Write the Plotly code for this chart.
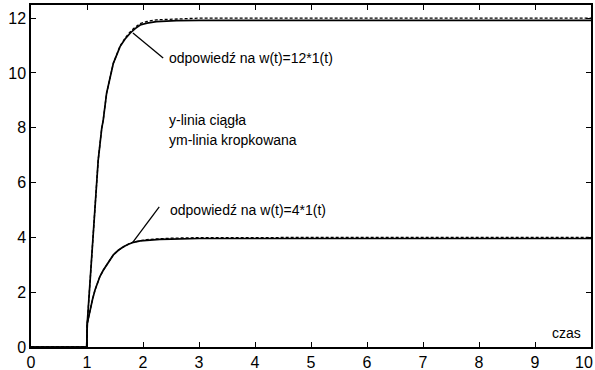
import plotly.graph_objects as go

# time samples (s)
t = [0, 0.995, 1.005, 1.054, 1.10, 1.143, 1.20, 1.263, 1.29, 1.35, 1.41, 1.47, 1.59, 1.68, 1.77, 1.86, 1.95, 2.07, 2.24, 2.6, 3, 4, 5, 6, 7, 8, 9, 10]
# response to w(t)=12*1(t)
y12 = [0, 0, 0.88, 2.45, 4.03, 5.36, 6.82, 7.98, 8.28, 9.26, 9.85, 10.35, 10.96, 11.24, 11.45, 11.62, 11.75, 11.82, 11.87, 11.91, 11.92, 11.92, 11.92, 11.92, 11.92, 11.92, 11.92, 11.92]
ym12 = [0, 0, 0.88, 2.45, 4.03, 5.36, 6.82, 7.98, 8.28, 9.26, 9.85, 10.35, 10.98, 11.27, 11.5, 11.67, 11.8, 11.88, 11.94, 11.98, 12.0, 12.0, 12.0, 12.0, 12.0, 12.0, 12.0, 12.0]
# response to w(t)=4*1(t)
t4 = [0, 0.995, 1.005, 1.054, 1.10, 1.143, 1.23, 1.29, 1.35, 1.41, 1.47, 1.56, 1.65, 1.74, 1.83, 1.95, 2.07, 2.3, 2.5, 3, 4, 5, 6, 7, 8, 9, 10]
y4 = [0, 0, 0.86, 1.35, 1.75, 2.08, 2.57, 2.80, 2.99, 3.19, 3.36, 3.53, 3.66, 3.75, 3.82, 3.87, 3.90, 3.93, 3.94, 3.96, 3.96, 3.96, 3.96, 3.96, 3.96, 3.96, 3.96]
ym4 = [0, 0, 0.86, 1.35, 1.75, 2.08, 2.57, 2.80, 2.99, 3.19, 3.36, 3.53, 3.66, 3.76, 3.83, 3.88, 3.92, 3.95, 3.97, 3.99, 4.0, 4.0, 4.0, 4.0, 4.0, 4.0, 4.0]

xticks = list(range(0, 11))
xtick_labels = ["0", "1", "2", "3", "4", "5", "6", "7", "8", "9", ""]
last_xlabel = "10"
yticks = [0, 2, 4, 6, 8, 10, 12]

fig = go.Figure()
for xs, ys in [(t, y12), (t4, y4)]:
    fig.add_trace(go.Scatter(x=xs, y=ys, mode="lines", line=dict(color="black", width=1.7), showlegend=False))
for xs, ys in [(t, ym12), (t4, ym4)]:
    fig.add_trace(go.Scatter(x=xs, y=ys, mode="lines", line=dict(color="black", width=1.3, dash="3px,2px"), showlegend=False))

font = dict(family="Liberation Sans, Arial, sans-serif", size=14, color="black")
tickfont = dict(family="Liberation Sans, Arial, sans-serif", size=16, color="black")

# pointer lines
fig.add_shape(type="line", x0=1.82, y0=11.46, x1=2.36, y1=10.55, line=dict(color="black", width=1.3))
fig.add_shape(type="line", x0=1.82, y0=3.83, x1=2.29, y1=5.11, line=dict(color="black", width=1.3))

ann = [
    (2.43, 10.55, "odpowiedź na w(t)=12*1(t)", "left"),
    (2.45, 5.0, "odpowiedź na w(t)=4*1(t)", "left"),
    (2.43, 8.3, "y-linia ciągła", "left"),
    (2.43, 7.55, "ym-linia kropkowana", "left"),
    (9.86, 0.5, "czas", "right"),
]
for x, y, txt, xa in ann:
    fig.add_annotation(x=x, y=y, text=txt, showarrow=False, xanchor=xa, yanchor="middle", font=font)

# last x tick label, kept inside the page edge
fig.add_annotation(x=1, y=0, xref="paper", yref="paper", text=last_xlabel, showarrow=False,
                   xanchor="right", yanchor="top", xshift=4, yshift=-5, font=tickfont)

axis_common = dict(showgrid=False, zeroline=False, showline=True, linecolor="black", linewidth=1.5,
                   mirror="allticks", ticks="inside", ticklen=5, tickcolor="black", tickwidth=1.3,
                   ticklabeloverflow="allow", automargin=False, tickfont=tickfont)
fig.update_xaxes(range=[0, 10], tickvals=xticks, ticktext=xtick_labels, **axis_common)
fig.update_yaxes(range=[0, 12.48], tickvals=yticks, **axis_common)

fig.update_layout(width=595, height=370, margin=dict(l=31, r=4, t=5, b=23),
                  plot_bgcolor="white", paper_bgcolor="white")
fig.write_html("out.html", config={"displayModeBar": False},
               post_script="document.body.style.margin='0';document.body.style.overflow='hidden';")
